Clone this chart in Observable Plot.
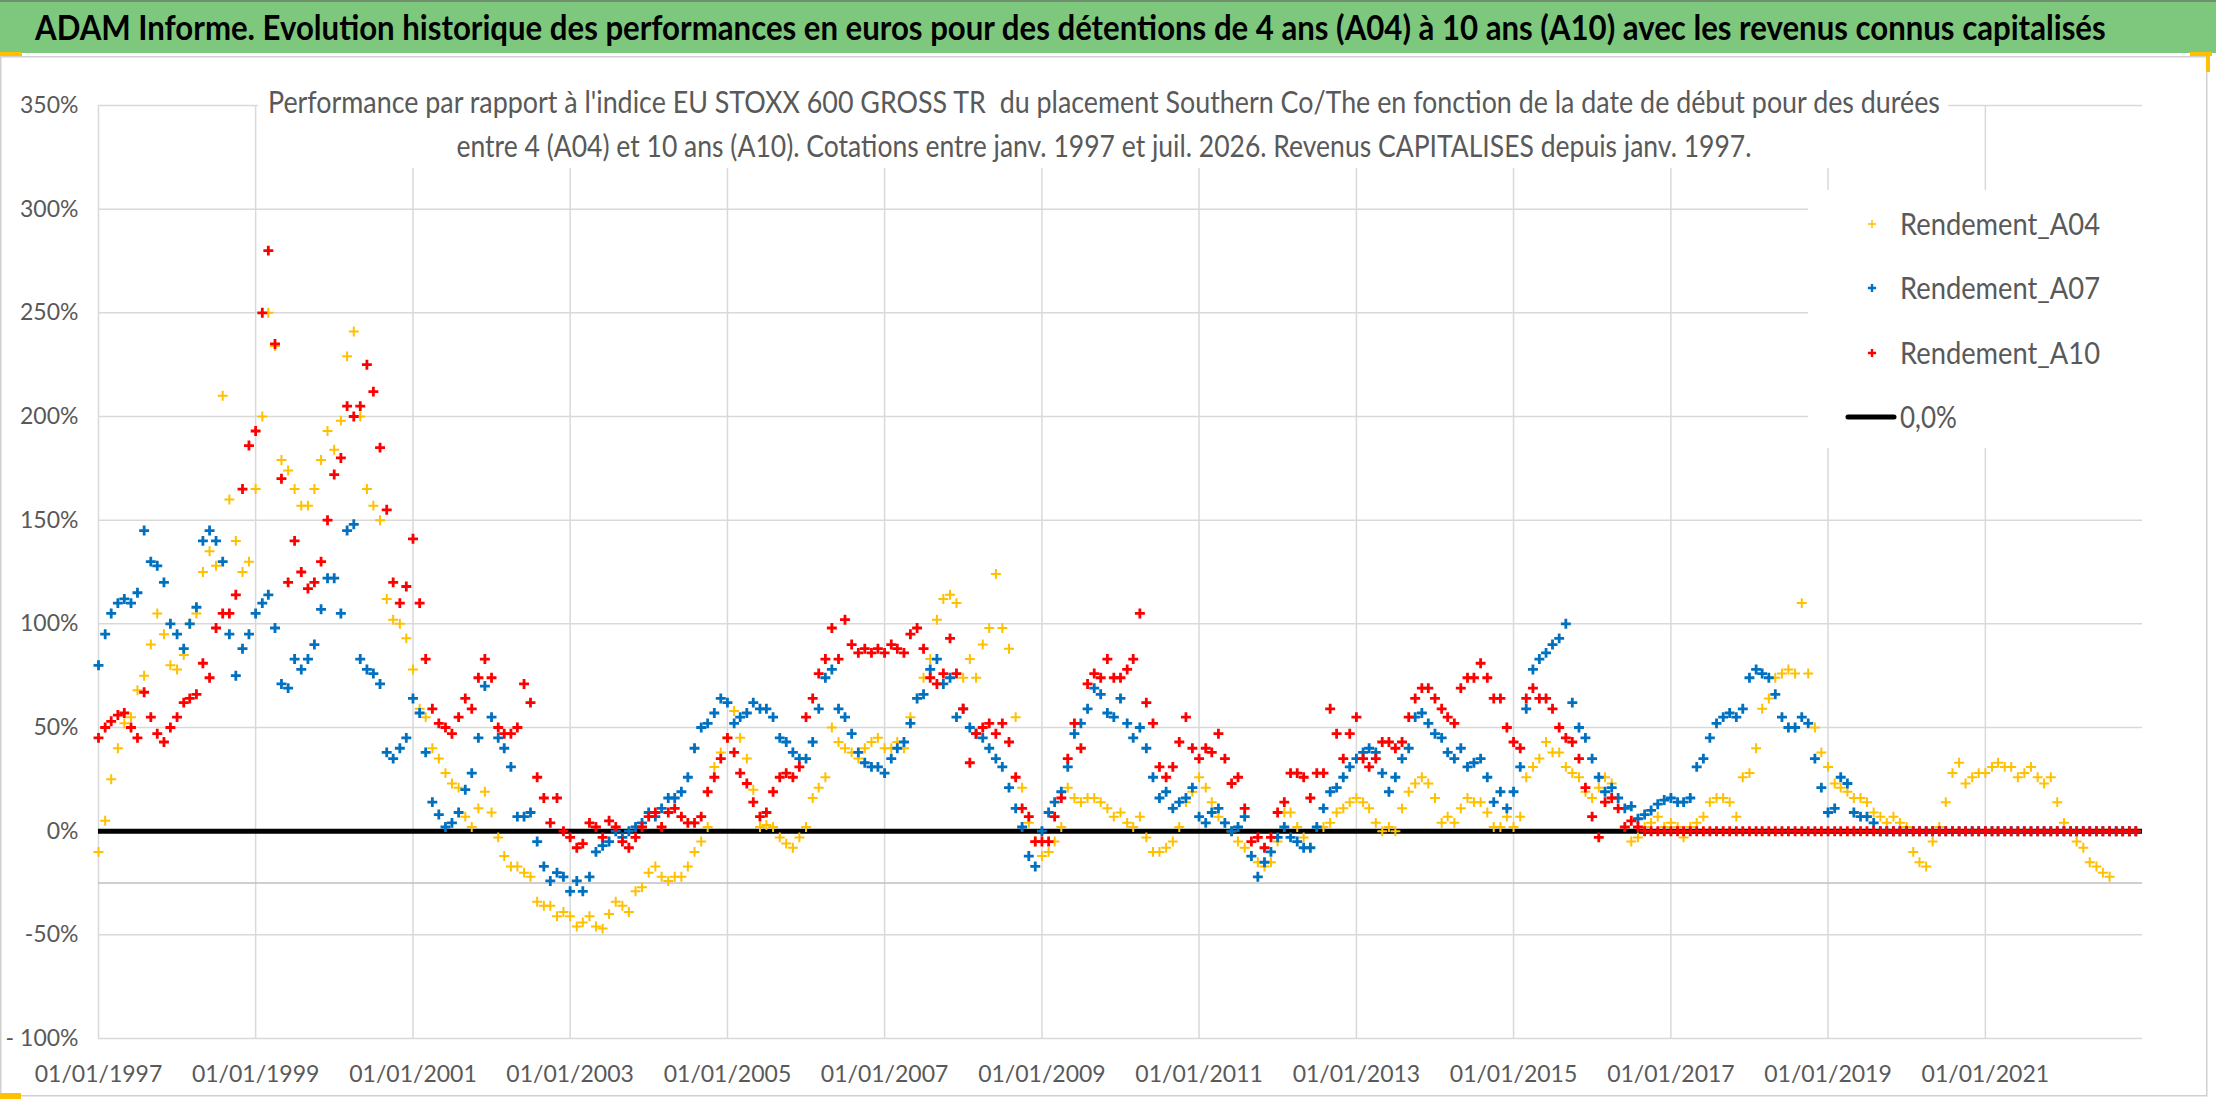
<!DOCTYPE html>
<html>
<head>
<meta charset="utf-8">
<script src="https://cdn.jsdelivr.net/npm/d3@7"></script>
<script src="https://cdn.jsdelivr.net/npm/@observablehq/plot@0.6"></script>
<style>
  html, body { margin: 0; padding: 0; background: #fff; }
  #page { position: relative; width: 2216px; height: 1102px; overflow: hidden; font-family: Lato, "Open Sans", sans-serif; }
  #bandeau { position: absolute; left: 0; top: 0; width: 2216px; height: 51px; background: #7ec87e; border-top: 2px solid #6f8f6f; }
  #chart { position: absolute; left: 0; top: 54px; }
</style>
</head>
<body>
<div id="page">
  <div id="bandeau"></div>
  <div id="chart"></div>
</div>
<script>
const titre = "ADAM Informe. Evolution historique des performances en euros pour des détentions de 4 ans (A04) à 10 ans (A10) avec les revenus connus capitalisés"
const sousTitre1 = "Performance par rapport à l'indice EU STOXX 600 GROSS TR  du placement Southern Co/The en fonction de la date de début pour des durées"
const sousTitre2 = "entre 4 (A04) et 10 ans (A10). Cotations entre janv. 1997 et juil. 2026. Revenus CAPITALISES depuis janv. 1997."

const series = ["Rendement_A04", "Rendement_A07", "Rendement_A10"]
const couleurs = ["#ffc000", "#0070c0", "#ff0000"]
const ligneZero = "0,0%"

const xTickYears = [1997, 1999, 2001, 2003, 2005, 2007, 2009, 2011, 2013, 2015, 2017, 2019, 2021]
const yTicks = [-100, -50, 0, 50, 100, 150, 200, 250, 300, 350]
const yTickLabels = ["- 100%", "-50%", "0%", "50%", "100%", "150%", "200%", "250%", "300%", "350%"]

// valeurs mensuelles (en %), janv. 1997 -> déc. 2022, une ligne par année
const rendementA04 = [
  -10, 5, 25, 40, 52, 55, 68, 75, 90, 105, 95, 80,
  78, 85, 100, 105, 125, 135, 128, 210, 160, 140, 125, 130,
  165, 200, 250, 234, 179, 174, 165, 157, 157, 165, 179, 193,
  184, 198, 229, 241, 200, 165, 157, 150, 112, 102, 100, 93,
  78, 59, 55, 40, 35, 28, 23, 21, 7, 2, 11, 19,
  9, -3, -12, -17, -17, -20, -22, -34, -36, -36, -41, -39,
  -41, -46, -44, -41, -46, -47, -40, -34, -36, -39, -29, -27,
  -20, -17, -22, -24, -22, -22, -17, -10, -5, 2, 31, 38,
  45, 58, 45, 35, 20, 2, 3, 2, -3, -6, -8, -3,
  2, 16, 21, 26, 50, 43, 40, 38, 35, 40, 43, 45,
  40, 40, 43, 40, 55, 64, 74, 83, 102, 112, 114, 110,
  74, 83, 74, 90, 98, 124, 98, 88, 55, 21, 4, -5,
  -12, -10, -5, 2, 21, 16, 14, 16, 16, 14, 11, 7,
  9, 4, 2, 7, -3, -10, -10, -8, -5, 2, 14, 19,
  26, 21, 14, 7, 4, 0, -5, -8, -12, -15, -17, -15,
  -5, 9, 9, 2, -3, -8, 2, 2, 4, 9, 11, 14,
  16, 14, 11, 4, 0, 2, 0, 11, 19, 23, 26, 23,
  16, 4, 7, 4, 11, 16, 14, 14, 9, 2, 2, 7,
  2, 7, 26, 31, 35, 43, 38, 38, 31, 28, 26, 19,
  16, 21, 26, 23, 16, 2, -5, -3, 2, 4, 7, 2,
  4, 2, -3, 2, 4, 7, 14, 16, 16, 14, 7, 26,
  28, 40, 59, 64, 74, 76, 78, 76, 110, 76, 50, 38,
  31, 23, 21, 19, 16, 16, 14, 9, 7, 4, 7, 4,
  2, -10, -15, -17, -5, 2, 14, 28, 33, 23, 26, 28,
  28, 31, 33, 31, 31, 26, 28, 31, 26, 23, 26, 14,
  4, 0, -5, -8, -15, -17, -20, -22, 0, 0, 0, 0
]
const rendementA07 = [
  80, 95, 105, 110, 112, 110, 115, 145, 130, 128, 120, 100,
  95, 88, 100, 108, 140, 145, 140, 130, 95, 75, 88, 95,
  105, 110, 114, 98, 71, 69, 83, 78, 83, 90, 107, 122,
  122, 105, 145, 148, 83, 78, 76, 71, 38, 35, 40, 45,
  64, 57, 38, 14, 8, 2, 4, 9, 20, 28, 45, 70,
  55, 45, 40, 31, 7, 7, 9, -5, -17, -24, -20, -22,
  -29, -24, -29, -22, -10, -7, -5, 0, -3, 0, 2, 4,
  9, 7, 11, 16, 16, 19, 26, 40, 50, 52, 57, 64,
  62, 52, 55, 57, 62, 59, 59, 55, 45, 43, 38, 35,
  35, 43, 59, 74, 78, 59, 55, 47, 38, 33, 31, 31,
  28, 35, 40, 43, 52, 64, 66, 78, 83, 71, 74, 55,
  59, 50, 47, 45, 40, 35, 31, 21, 11, 2, -12, -17,
  0, 9, 14, 19, 31, 47, 52, 59, 69, 66, 57, 55,
  64, 52, 45, 50, 40, 26, 16, 19, 11, 14, 16, 21,
  7, 4, 9, 11, 4, 0, 2, 7, -12, -22, -15, -10,
  -3, 2, -3, -5, -8, -8, 2, 11, 19, 21, 26, 31,
  35, 38, 40, 38, 28, 19, 26, 35, 40, 55, 57, 52,
  47, 45, 38, 35, 40, 31, 33, 35, 26, 14, 19, 11,
  19, 31, 59, 78, 83, 86, 90, 93, 100, 62, 50, 45,
  35, 26, 19, 21, 16, 11, 12, 6, 8, 10, 13, 15,
  16, 14, 14, 16, 31, 35, 45, 52, 55, 57, 55, 59,
  74, 78, 76, 74, 66, 55, 50, 50, 55, 52, 35, 21,
  9, 11, 26, 23, 9, 7, 7, 4, 0, 0, 0, 0,
  0, 0, 0, 0, 0, 0, 0, 0, 0, 0, 0, 0,
  0, 0, 0, 0, 0, 0, 0, 0, 0, 0, 0, 0,
  0, 0, 0, 0, 0, 0, 0, 0, 0, 0, 0, 0
]
const rendementA10 = [
  45, 50, 53, 56, 57, 50, 45, 67, 55, 47, 43, 50,
  55, 62, 64, 66, 81, 74, 98, 105, 105, 114, 165, 186,
  193, 250, 280, 235, 170, 120, 140, 125, 117, 120, 130, 150,
  172, 180, 205, 200, 205, 225, 212, 185, 155, 120, 110, 118,
  141, 110, 83, 59, 52, 50, 47, 55, 64, 59, 74, 83,
  74, 50, 47, 47, 50, 71, 62, 26, 16, 4, 16, 0,
  -3, -8, -6, 4, 2, -3, 5, 2, -5, -8, -3, 2,
  7, 9, 2, 9, 11, 7, 4, 4, 7, 19, 26, 35,
  45, 38, 28, 23, 14, 7, 9, 19, 26, 28, 26, 31,
  55, 64, 76, 83, 98, 83, 102, 90, 86, 88, 86, 88,
  86, 90, 88, 86, 95, 98, 88, 74, 71, 76, 93, 76,
  59, 33, 47, 50, 52, 47, 52, 43, 26, 11, 7, -5,
  -5, -5, 7, 16, 35, 52, 40, 71, 76, 74, 83, 74,
  74, 78, 83, 105, 62, 52, 31, 26, 31, 43, 55, 40,
  35, 40, 38, 47, 35, 23, 26, 11, -5, -3, -8, -3,
  9, 14, 28, 28, 26, 16, 28, 28, 59, 47, 35, 47,
  55, 35, 31, 35, 43, 43, 40, 43, 55, 64, 69, 69,
  64, 59, 55, 52, 69, 74, 74, 81, 74, 64, 64, 50,
  43, 40, 64, 69, 64, 64, 59, 50, 45, 43, 35, 21,
  7, -3, 14, 16, 11, 2, 5, 2, 0, 0, 0, 0,
  0, 0, 0, 0, 0, 0, 0, 0, 0, 0, 0, 0,
  0, 0, 0, 0, 0, 0, 0, 0, 0, 0, 0, 0,
  0, 0, 0, 0, 0, 0, 0, 0, 0, 0, 0, 0,
  0, 0, 0, 0, 0, 0, 0, 0, 0, 0, 0, 0,
  0, 0, 0, 0, 0, 0, 0, 0, 0, 0, 0, 0,
  0, 0, 0, 0, 0, 0, 0, 0, 0, 0, 0, 0
]

const mois = d3.utcMonth.range(new Date(Date.UTC(1997, 0, 1)), new Date(Date.UTC(2023, 0, 1)))
const lignes = valeurs => valeurs.map((v, i) => ({date: mois[i], valeur: v}))
const xTicks = xTickYears.map(a => new Date(Date.UTC(a, 0, 1)))

const points = (valeurs, couleur, epaisseur) => Plot.dot(lignes(valeurs), {
  x: "date", y: "valeur", symbol: "plus", r: 3.3,
  stroke: couleur, strokeWidth: epaisseur, fill: "none"
})

let chart = Plot.plot({
  width: 2216,
  height: 1048,
  marginTop: 51,
  marginBottom: 64,
  marginLeft: 98,
  marginRight: 74,
  style: {fontFamily: '"Liberation Sans Narrow", Lato, sans-serif', fontSize: "23px", color: "#595959", background: "transparent"},
  x: {
    type: "utc",
    domain: [new Date(Date.UTC(1997, 0, 1)), new Date(Date.UTC(2023, 0, 1))],
    ticks: xTicks,
    tickFormat: d3.utcFormat("%d/%m/%Y"),
    tickSize: 0,
    tickPadding: 27,
    label: null
  },
  y: {
    domain: [-100, 350],
    ticks: yTicks,
    tickFormat: d => yTickLabels[yTicks.indexOf(d)],
    tickSize: 0,
    tickPadding: 20,
    label: null
  },
  marks: [
    Plot.ruleX(xTicks, {stroke: "#d9d9d9", strokeWidth: 1.5}),
    Plot.ruleY(yTicks, {stroke: "#d9d9d9", strokeWidth: 1.5}),
    Plot.ruleY([-25], {stroke: "#bfbfbf", strokeWidth: 1.5}),
    Plot.ruleY([0], {stroke: "#000", strokeWidth: 5}),
    points(rendementA04, couleurs[0], 2),
    points(rendementA07, couleurs[1], 2.8),
    points(rendementA10, couleurs[2], 2.8)
  ]
})
d3.select('#chart').append(() => chart)

// calque : titre, sous-titre, légende, cadre
const calque = d3.select('#page').append('svg')
  .attr('width', 2216).attr('height', 1102)
  .style('position', 'absolute').style('left', 0).style('top', 0)
  .style('pointer-events', 'none')
  .style('font-family', 'Lato, "Open Sans", sans-serif')

calque.append('rect').attr('x', 0.75).attr('y', 56.75).attr('width', 2206).attr('height', 1039)
  .attr('fill', 'none').attr('stroke', '#d0d0d0').attr('stroke-width', 1.5)
calque.append('rect').attr('x', 0).attr('y', 52).attr('width', 22).attr('height', 4).attr('fill', '#ffc000')
calque.append('rect').attr('x', 2190).attr('y', 52).attr('width', 22).attr('height', 4).attr('fill', '#ffc000')
calque.append('rect').attr('x', 2206).attr('y', 52).attr('width', 4).attr('height', 20).attr('fill', '#ffc000')
calque.append('rect').attr('x', 0).attr('y', 1093).attr('width', 21).attr('height', 6).attr('fill', '#ffc000')

// le titre est resserré horizontalement pour tenir dans le bandeau
const texteTitre = calque.append('text')
  .attr('font-size', 35).attr('font-weight', 700).attr('fill', '#000')
  .text(titre)
const largeurTitre = texteTitre.node().getComputedTextLength()
texteTitre.attr('transform', `translate(35,40) scale(${2072 / largeurTitre},1)`)

calque.append('rect').attr('x', 258).attr('y', 84).attr('width', 1690).attr('height', 84).attr('fill', '#fff')
calque.append('text').attr('x', 1104).attr('y', 113).attr('text-anchor', 'middle')
  .attr('font-size', 30).attr('fill', '#595959').style('white-space', 'pre')
  .attr('textLength', 1672).attr('lengthAdjust', 'spacingAndGlyphs')
  .text(sousTitre1)
calque.append('text').attr('x', 1104).attr('y', 157).attr('text-anchor', 'middle')
  .attr('font-size', 30).attr('fill', '#595959')
  .attr('textLength', 1295).attr('lengthAdjust', 'spacingAndGlyphs')
  .text(sousTitre2)

// légende
calque.append('rect').attr('x', 1808).attr('y', 190).attr('width', 334).attr('height', 258).attr('fill', '#fff')
const lignesLegende = [224, 288, 353]
series.forEach((nom, i) => {
  calque.append('path')
    .attr('d', d3.symbol(d3.symbolPlus, 24)())
    .attr('transform', `translate(1872,${lignesLegende[i]})`)
    .attr('fill', 'none').attr('stroke', couleurs[i]).attr('stroke-width', i === 0 ? 1.5 : 2.4)
  calque.append('text').attr('x', 1900).attr('y', lignesLegende[i] + 11)
    .attr('font-size', 31).attr('fill', '#595959')
    .attr('textLength', 200).attr('lengthAdjust', 'spacingAndGlyphs')
    .text(nom)
})
calque.append('line').attr('x1', 1848).attr('x2', 1894).attr('y1', 417).attr('y2', 417)
  .attr('stroke', '#000').attr('stroke-width', 5).attr('stroke-linecap', 'round')
calque.append('text').attr('x', 1900).attr('y', 428)
  .attr('font-size', 31).attr('fill', '#595959')
  .attr('textLength', 57).attr('lengthAdjust', 'spacingAndGlyphs')
  .text(ligneZero)
</script>
</body>
</html>
